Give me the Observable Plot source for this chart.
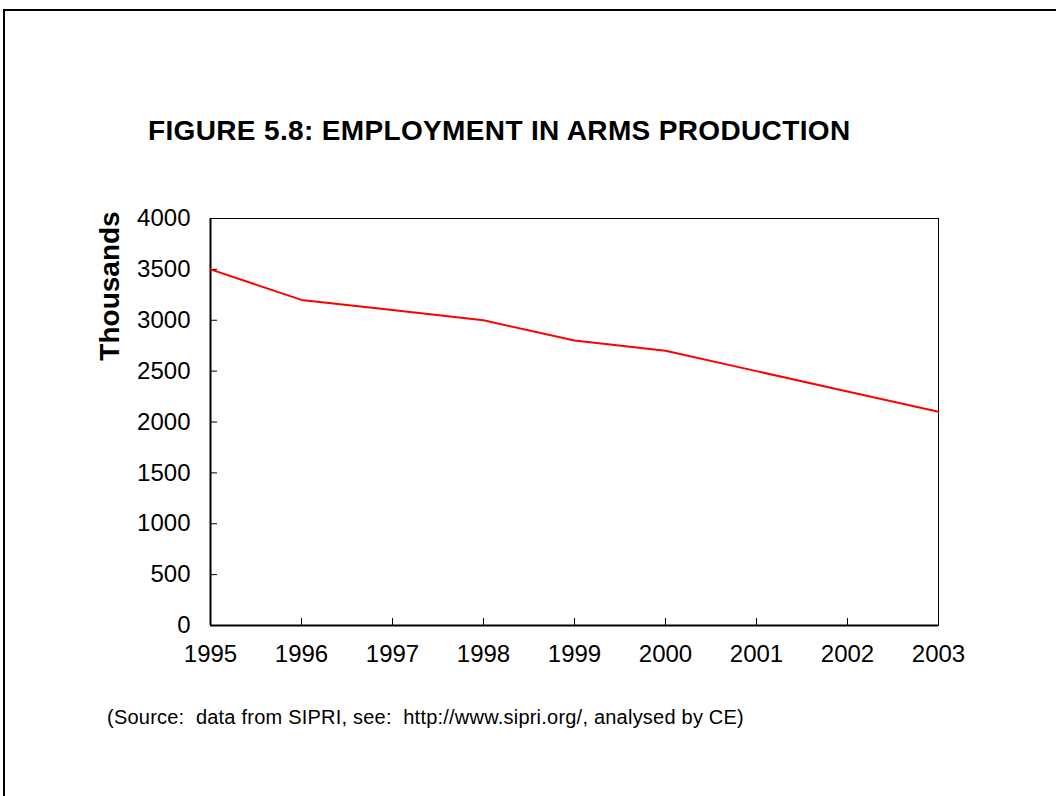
<!DOCTYPE html>
<html>
<head>
<meta charset="utf-8">
<script src="https://cdn.jsdelivr.net/npm/d3@7"></script>
<script src="https://cdn.jsdelivr.net/npm/@observablehq/plot@0.6"></script>
<style>
  html, body { margin: 0; padding: 0; background: #fff; overflow: hidden; }
  #wrap { position: relative; width: 1056px; height: 796px; overflow: hidden; font-family: "Liberation Sans", Arial, sans-serif; }
  #border { position: absolute; left: 3px; top: 9px; width: 1200px; height: 1000px; border-left: 2px solid #000; border-top: 2px solid #000; }
  #title { position: absolute; left: 148px; top: 115px; font-size: 28px; font-weight: bold; letter-spacing: 0.35px; color: #000; white-space: nowrap; }
  #caption { position: absolute; left: 107px; top: 706px; font-size: 20px; letter-spacing: 0.22px; color: #000; white-space: nowrap; }
  #chart { position: absolute; left: 0; top: 0; }
</style>
</head>
<body>
<div id="wrap">
  <div id="border"></div>
  <div id="chart"></div>
  <div id="title">FIGURE 5.8: EMPLOYMENT IN ARMS PRODUCTION</div>
  <div id="caption">(Source:&nbsp; data from SIPRI, see:&nbsp; http://www.sipri.org/, analysed by CE)</div>
</div>
<script>
const years = [1995, 1996, 1997, 1998, 1999, 2000, 2001, 2002, 2003];
const employment = [3500, 3200, 3100, 3000, 2800, 2700, 2500, 2300, 2100];
const yTicks = [0, 500, 1000, 1500, 2000, 2500, 3000, 3500, 4000];
const yLabel = "Thousands";

const data = years.map((y, i) => ({year: y, value: employment[i]}));

const chart = Plot.plot({
  width: 1056,
  height: 796,
  marginLeft: 210,
  marginRight: 118,
  marginTop: 218,
  marginBottom: 171,
  style: {fontFamily: "'Liberation Sans', Arial, sans-serif", fontSize: "24px", color: "#000", background: "transparent"},
  x: {domain: [1995, 2003]},
  y: {domain: [0, 4000]},
  marks: [
    Plot.frame({stroke: "#000", strokeWidth: 1}),
    Plot.axisY({ticks: yTicks, tickFormat: d => String(d), tickSize: -7, tickPadding: 27, label: null, fontSize: 24}),
    Plot.axisX({ticks: years, tickFormat: d => String(d), tickSize: -7, tickPadding: 26, label: null, fontSize: 24}),
    Plot.ruleX([1995], {stroke: "#000", strokeWidth: 2}),
    Plot.ruleY([0], {stroke: "#000", strokeWidth: 2}),
    Plot.line(data, {x: "year", y: "value", stroke: "#ff0000", strokeWidth: 2}),
    Plot.text([yLabel], {frameAnchor: "left", rotate: -90, textAnchor: "middle", dx: -100, dy: -136, text: d => d, fontWeight: "bold", fontSize: 28, fill: "#000"})
  ]
});
document.getElementById("chart").appendChild(chart);
</script>
</body>
</html>
